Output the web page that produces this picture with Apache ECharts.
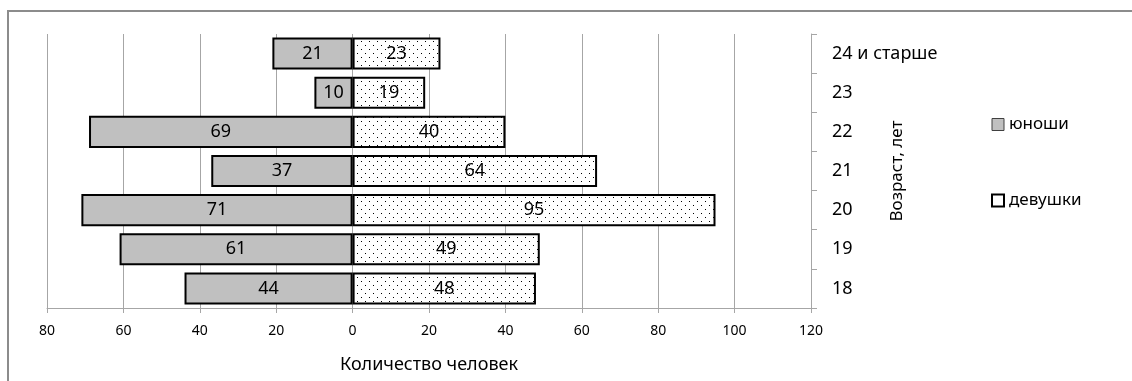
<!DOCTYPE html>
<html><head><meta charset="utf-8">
<script src="https://cdn.jsdelivr.net/npm/echarts@6/dist/echarts.min.js"></script>
<style>html,body{margin:0;padding:0;background:#fff}#c{width:1132px;height:381px}</style>
</head><body><div id="c"></div>
<script>
const categories = ['18','19','20','21','22','23','24 и старше'];
const boys = [44, 61, 71, 37, 69, 10, 21];
const girls = [48, 49, 95, 64, 40, 19, 23];
const xTicks = { min: -80, max: 120, interval: 20 };

const cv = document.createElement('canvas');
cv.width = 8; cv.height = 8;
const cx = cv.getContext('2d');
cx.fillStyle = '#fff'; cx.fillRect(0,0,8,8);
cx.fillStyle = '#000';
cx.fillRect(1,1,1,1); cx.fillRect(5,5,1,1);

const FONT = 'Noto Sans';
const chart = echarts.init(document.getElementById('c'), null, {renderer:'canvas'});
chart.setOption({
  animation:false,
  textStyle:{fontFamily:FONT},
  graphic:[{type:'rect', shape:{x:8,y:11,width:1200,height:500}, style:{fill:'none', stroke:'#8c8c8c', lineWidth:2}, z:-10}],
  grid:{left:47, right:321, top:34, bottom:73},
  legend:{
    orient:'vertical', left:986, top:111, itemGap:59, itemWidth:12, itemHeight:12,
    textStyle:{fontFamily:FONT, fontSize:17, color:'#000'},
    data:[
      {name:'юноши', icon:'rect', itemStyle:{color:'#c0c0c0', borderColor:'#404040', borderWidth:1}},
      {name:'девушки', icon:'rect', itemStyle:{color:'#fff', borderColor:'#000', borderWidth:2}}
    ]
  },
  xAxis:{
    type:'value', min:xTicks.min, max:xTicks.max, interval:xTicks.interval,
    name:'Количество человек', nameLocation:'middle', nameGap:48,
    nameTextStyle:{fontFamily:FONT, fontSize:18, color:'#000'},
    axisLine:{show:true, lineStyle:{color:'#a6a6a6'}},
    axisTick:{show:true, length:5, lineStyle:{color:'#a6a6a6'}},
    axisLabel:{formatter:v=>Math.abs(v), fontFamily:FONT, fontSize:14, color:'#000', margin:16},
    splitLine:{show:true, lineStyle:{color:'#a6a6a6', width:1}}
  },
  yAxis:{
    type:'category', data:categories, position:'right',
    name:'Возраст, лет', nameLocation:'middle', nameRotate:90, nameGap:78, nameMoveOverlap:false,
    nameTextStyle:{fontFamily:FONT, fontSize:17, color:'#000'},
    axisLine:{show:true, onZero:false, lineStyle:{color:'#a6a6a6'}},
    axisTick:{show:true, length:6, lineStyle:{color:'#a6a6a6'}},
    axisLabel:{fontFamily:FONT, fontSize:18, color:'#000', margin:21, align:'left'}
  },
  series:[
    {name:'юноши', type:'bar', data:boys.map(v=>-v), barCategoryGap:'18%', barGap:'-100%',
     itemStyle:{color:'#c0c0c0', borderColor:'#000', borderWidth:2},
     label:{show:true, position:'inside', formatter:p=>Math.abs(p.value), fontFamily:FONT, fontSize:18, color:'#000'}},
    {name:'девушки', type:'bar', data:girls,
     itemStyle:{color:{image:cv, repeat:'repeat'}, borderColor:'#000', borderWidth:2},
     label:{show:true, position:'inside', fontFamily:FONT, fontSize:18, color:'#000'}}
  ]
});
</script></body></html>
